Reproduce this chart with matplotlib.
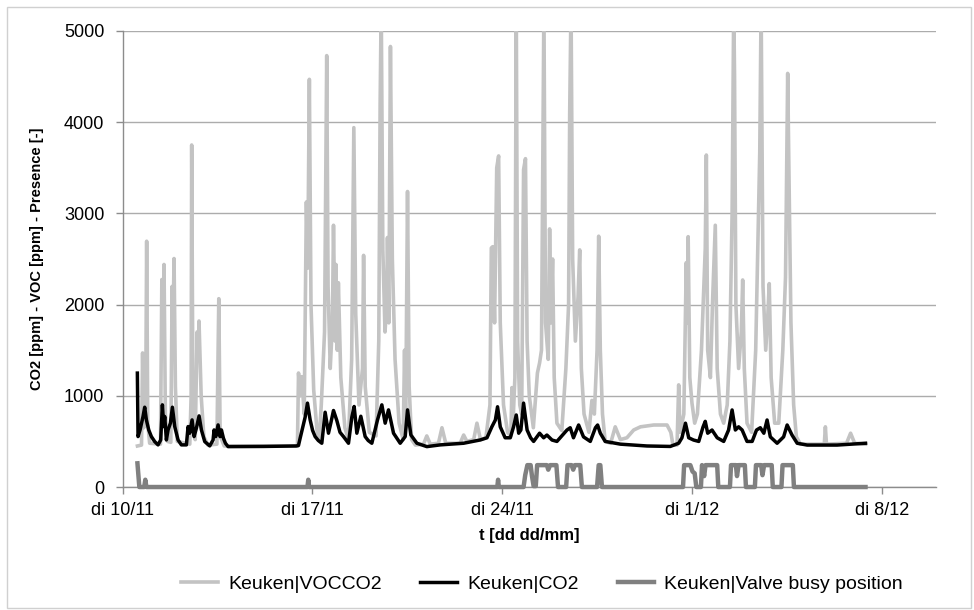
import matplotlib
matplotlib.use("Agg")
import matplotlib.pyplot as plt
from matplotlib.patches import Rectangle

plt.rcParams["font.family"] = ["Liberation Sans", "DejaVu Sans"]

# time axis: days since di 10/11 00:00
TICK_DAYS = [0, 7, 14, 21, 28]
TICK_LABELS = ["di 10/11", "di 17/11", "di 24/11", "di 1/12", "di 8/12"]

# Keuken|VOCCO2 [ppm]
voc_day = [
    0.55, 0.70, 0.74, 0.78, 0.85, 0.89, 0.93, 1.00, 1.40, 1.45, 1.48, 1.53,
    1.58, 1.66, 1.78, 1.83, 1.86, 1.90, 1.95, 2.02, 2.48, 2.53, 2.55, 2.60,
    2.68, 2.75, 2.79, 2.82, 2.90, 3.00, 3.15, 3.48, 3.55, 3.60, 3.75, 6.45,
    6.49, 6.55, 6.61, 6.70, 6.78, 6.83, 6.89, 6.95, 7.05, 7.17, 7.25, 7.33,
    7.45, 7.53, 7.58, 7.66, 7.74, 7.78, 7.84, 7.87, 7.92, 7.96, 8.05, 8.20,
    8.33, 8.45, 8.53, 8.60, 8.72, 8.85, 8.89, 8.95, 9.10, 9.35, 9.45, 9.50,
    9.54, 9.60, 9.68, 9.74, 9.77, 9.82, 9.88, 9.95, 10.05, 10.20, 10.35,
    10.40, 10.44, 10.51, 10.57, 10.66, 10.80, 11.10, 11.22, 11.35, 11.65,
    11.78, 11.92, 12.45, 12.58, 12.70, 12.95, 13.07, 13.20, 13.40,
    13.55, 13.60, 13.65, 13.72, 13.80, 13.87, 13.93, 14.05, 14.20, 14.32,
    14.36, 14.40, 14.47, 14.52, 14.57, 14.65, 14.72, 14.79, 14.86, 14.92,
    15.00, 15.15, 15.30, 15.38, 15.45, 15.54, 15.60, 15.70, 15.75, 15.80,
    15.86, 15.92, 16.02, 16.20, 16.35, 16.45, 16.49, 16.54, 16.60, 16.70,
    16.80, 16.86, 16.92, 17.02, 17.20, 17.31, 17.40, 17.50, 17.56, 17.62,
    17.70, 17.80, 18.00, 18.17, 18.36, 18.60, 18.85, 19.10, 19.59, 20.08,
    20.22, 20.30, 20.45, 20.51, 20.56, 20.70, 20.79, 20.83, 20.86, 20.92,
    21.00, 21.10, 21.20, 21.35, 21.49, 21.53, 21.58, 21.68, 21.76, 21.86,
    21.93, 22.05, 22.17, 22.30, 22.40, 22.48, 22.54, 22.57, 22.62, 22.72,
    22.82, 22.87, 22.93, 23.03, 23.20, 23.35, 23.50, 23.55, 23.62, 23.72,
    23.80, 23.85, 23.92, 24.05, 24.20, 24.35, 24.45, 24.53, 24.57, 24.65,
    24.75, 24.85, 25.00, 25.88, 25.92, 25.96, 26.70, 26.85, 27.00, 27.40,
]
voc_ppm = [
    450, 460, 1470, 650, 700, 2695, 700, 480, 470, 2275, 1500, 2440,
    800, 500, 490, 2200, 1700, 2505, 1100, 500, 470, 1000, 3750, 700,
    520, 1700, 1400, 1820, 1000, 550, 460, 470, 2065, 560, 450, 450,
    1250, 1000, 1210, 800, 3125, 2400, 4470, 2000, 1065, 625, 520, 900,
    1700, 4730, 2200, 1300, 1800, 2870, 1600, 2440, 1500, 2240, 1200, 650,
    520, 1400, 3940, 1900, 900, 1300, 2540, 1100, 600, 560, 1600, 4200,
    5300, 2600, 1700, 2000, 2735, 1800, 4830, 2500, 1400, 700, 520,
    1500, 650, 3240, 1100, 520, 460, 470, 560, 470, 480,
    650, 480, 480, 570, 500, 520, 700, 520, 540,
    900, 2620, 2635, 1800, 3500, 3630, 1800, 900, 600, 560,
    1090, 700, 1200, 5300, 1600, 900, 800, 3480, 3600, 1600,
    1000, 650, 1250, 1360, 1500, 5300, 1800, 1400, 2830, 1800,
    2500, 1200, 700, 620, 1300, 2000, 4090, 5300, 2500, 1600,
    2090, 2600, 1300, 800, 600, 950, 800, 1500, 2750, 1500,
    800, 500, 480, 660, 520, 540, 625, 660, 680, 680,
    600, 460, 460, 1120, 600, 800, 2460, 1800, 2745, 1200,
    920, 700, 800, 1500, 2615, 3640, 1500, 1200, 2040, 2870,
    1300, 800, 700, 900, 1600, 3000, 5300, 4510, 2000, 1300,
    1700, 2270, 1300, 700, 600, 1500, 3670, 5300, 2200, 1500,
    1900, 2230, 1200, 700, 700, 1500, 2300, 4535, 3590, 1800,
    900, 550, 470, 470, 660, 470, 480, 590, 480, 470,
]

# Keuken|CO2 [ppm]
co2_day = [
    0.547, 0.572, 0.646, 0.756, 0.818, 0.880, 0.966, 1.064, 1.187, 1.310,
    1.408, 1.470, 1.519, 1.556, 1.617, 1.679, 1.765, 1.839, 1.925, 2.048,
    2.171, 2.355, 2.417, 2.478, 2.565, 2.638, 2.724, 2.823, 2.909, 3.032,
    3.216, 3.339, 3.376, 3.438, 3.524, 3.598, 3.647, 3.721, 3.795, 3.893,
    5.20, 6.40, 6.488, 6.550, 6.734, 6.820, 6.919, 7.010, 7.103, 7.220,
    7.349, 7.472, 7.595, 7.680, 7.780, 7.903, 8.020, 8.149, 8.333, 8.456,
    8.542, 8.641, 8.788, 8.948, 9.060, 9.194, 9.403, 9.563, 9.686, 9.809,
    9.994, 10.240, 10.424, 10.510, 10.633, 10.855, 11.224, 11.716, 12.577,
    13.007, 13.192, 13.44, 13.62, 13.75, 13.83, 13.93, 14.11, 14.30, 14.42,
    14.52, 14.61, 14.69, 14.79, 14.92, 15.05, 15.16, 15.38, 15.53, 15.65,
    15.84, 16.02, 16.39, 16.51, 16.63, 16.82, 17.00, 17.25, 17.44, 17.52,
    17.62, 17.80, 18.36, 19.34, 20.20, 20.51, 20.63, 20.76, 20.88, 21.06,
    21.25, 21.41, 21.49, 21.58, 21.74, 21.93, 22.17, 22.35, 22.48, 22.60,
    22.72, 22.85, 23.03, 23.22, 23.38, 23.52, 23.65, 23.77, 23.89, 24.14,
    24.38, 24.51, 24.69, 24.88, 25.25, 26.35, 27.40,
]
co2_ppm = [
    1249, 553, 626, 773, 875, 736, 626, 553, 498, 462,
    516, 901, 663, 773, 516, 626, 700, 875, 663, 516,
    462, 462, 663, 590, 736, 553, 645, 780, 626, 498,
    451, 516, 626, 553, 681, 553, 626, 535, 480, 443,
    445, 450, 455, 535, 765, 920, 736, 620, 553, 510,
    480, 820, 590, 700, 839, 729, 600, 553, 480, 765,
    883, 590, 776, 553, 510, 480, 736, 901, 700, 846,
    590, 480, 553, 846, 571, 480, 443, 462, 480,
    505, 516, 540, 660, 735, 880, 660, 540, 540, 660,
    790, 590, 625, 920, 625, 540, 500, 590, 540, 570,
    515, 500, 625, 650, 540, 680, 550, 500, 650, 680,
    590, 500, 470, 450, 445, 480, 540, 700, 540, 515,
    500, 660, 720, 590, 625, 540, 500, 625, 845, 625,
    660, 625, 500, 500, 625, 650, 590, 735, 550, 480,
    550, 680, 570, 480, 460, 460, 480,
]

# Keuken|Valve busy position [-]
valve_day = [
    0.55, 0.62, 0.80, 0.84, 0.88, 6.82, 6.85, 6.88, 13.82, 13.85, 13.88,
    14.79, 14.85, 14.93, 15.05, 15.10, 15.16, 15.24, 15.29, 15.65, 15.70,
    15.77, 16.00, 16.06, 16.36, 16.41, 16.56, 16.62, 16.68, 16.88, 16.94,
    17.50, 17.56, 17.62, 17.68, 20.67, 20.71, 20.94, 21.02, 21.10, 21.16,
    21.33, 21.37, 21.45, 21.50, 21.93, 21.97, 22.40, 22.44, 22.62, 22.66,
    22.72, 22.95, 22.99, 23.32, 23.36, 23.55, 23.60, 23.66, 23.94, 23.98,
    24.30, 24.34, 24.72, 24.76, 27.40,
]
valve_val = [
    260, 0, 0, 80, 0, 0, 80, 0, 0, 80, 0,
    0, 130, 240, 240, 120, 10, 10, 240, 240, 190,
    240, 240, 0, 0, 240, 240, 190, 240, 240, 0,
    0, 240, 240, 0, 0, 240, 240, 170, 150, 0,
    0, 240, 120, 240, 240, 0, 0, 240, 240, 120,
    240, 240, 0, 0, 240, 240, 130, 240, 240, 0,
    0, 240, 240, 0, 0,
]

VOC_COLOR = "#C3C3C3"
CO2_COLOR = "#000000"
VALVE_COLOR = "#808080"
GRID_COLOR = "#ACACAC"
AXIS_COLOR = "#8C8C8C"

fig = plt.figure(figsize=(9.74, 6.10), dpi=100)
ax = fig.add_axes([0.1258, 0.2016, 0.8352, 0.7476])

ax.plot(voc_day, voc_ppm, color=VOC_COLOR, lw=2.6, label="Keuken|VOCCO2",
        solid_joinstyle="round", zorder=2)
ax.plot(co2_day, co2_ppm, color=CO2_COLOR, lw=2.5, label="Keuken|CO2",
        solid_joinstyle="round", zorder=3)
ax.plot(valve_day, valve_val, color=VALVE_COLOR, lw=3.2,
        label="Keuken|Valve busy position", solid_joinstyle="round",
        zorder=4, clip_on=False)

ax.set_xlim(0, 30)
ax.set_ylim(0, 5000)
ax.set_yticks(range(0, 5001, 1000))
ax.set_xticks(TICK_DAYS)
ax.set_xticklabels(TICK_LABELS)
ax.tick_params(axis="both", labelsize=13, color=AXIS_COLOR, length=5,
               width=1)
ax.tick_params(axis="x", pad=6)
ax.tick_params(axis="y", pad=8)
ax.yaxis.grid(True, color=GRID_COLOR, lw=1)
ax.set_axisbelow(True)
for side in ("top", "right"):
    ax.spines[side].set_visible(False)
for side in ("left", "bottom"):
    ax.spines[side].set_color(AXIS_COLOR)
    ax.spines[side].set_linewidth(1)

ax.set_xlabel("t [dd dd/mm]", fontsize=12, fontweight="bold")
ax.xaxis.set_label_coords(0.5, -0.09)
ax.set_ylabel("CO2 [ppm] - VOC [ppm] - Presence [-]", fontsize=10.5,
              fontweight="bold")
ax.yaxis.set_label_coords(-0.097, 0.5)

fig.legend(loc="center", bbox_to_anchor=(0.5565, 0.042), ncol=3,
           frameon=False, fontsize=14, handlelength=1.9,
           handletextpad=0.5, columnspacing=2.0)

# thin outer frame round the chart area
fig.patches.append(Rectangle((0.007, 0.003), 0.99, 0.985,
                             transform=fig.transFigure, fill=False,
                             edgecolor="#D0D0D0", lw=1))

fig.savefig("out.png", dpi=100)
